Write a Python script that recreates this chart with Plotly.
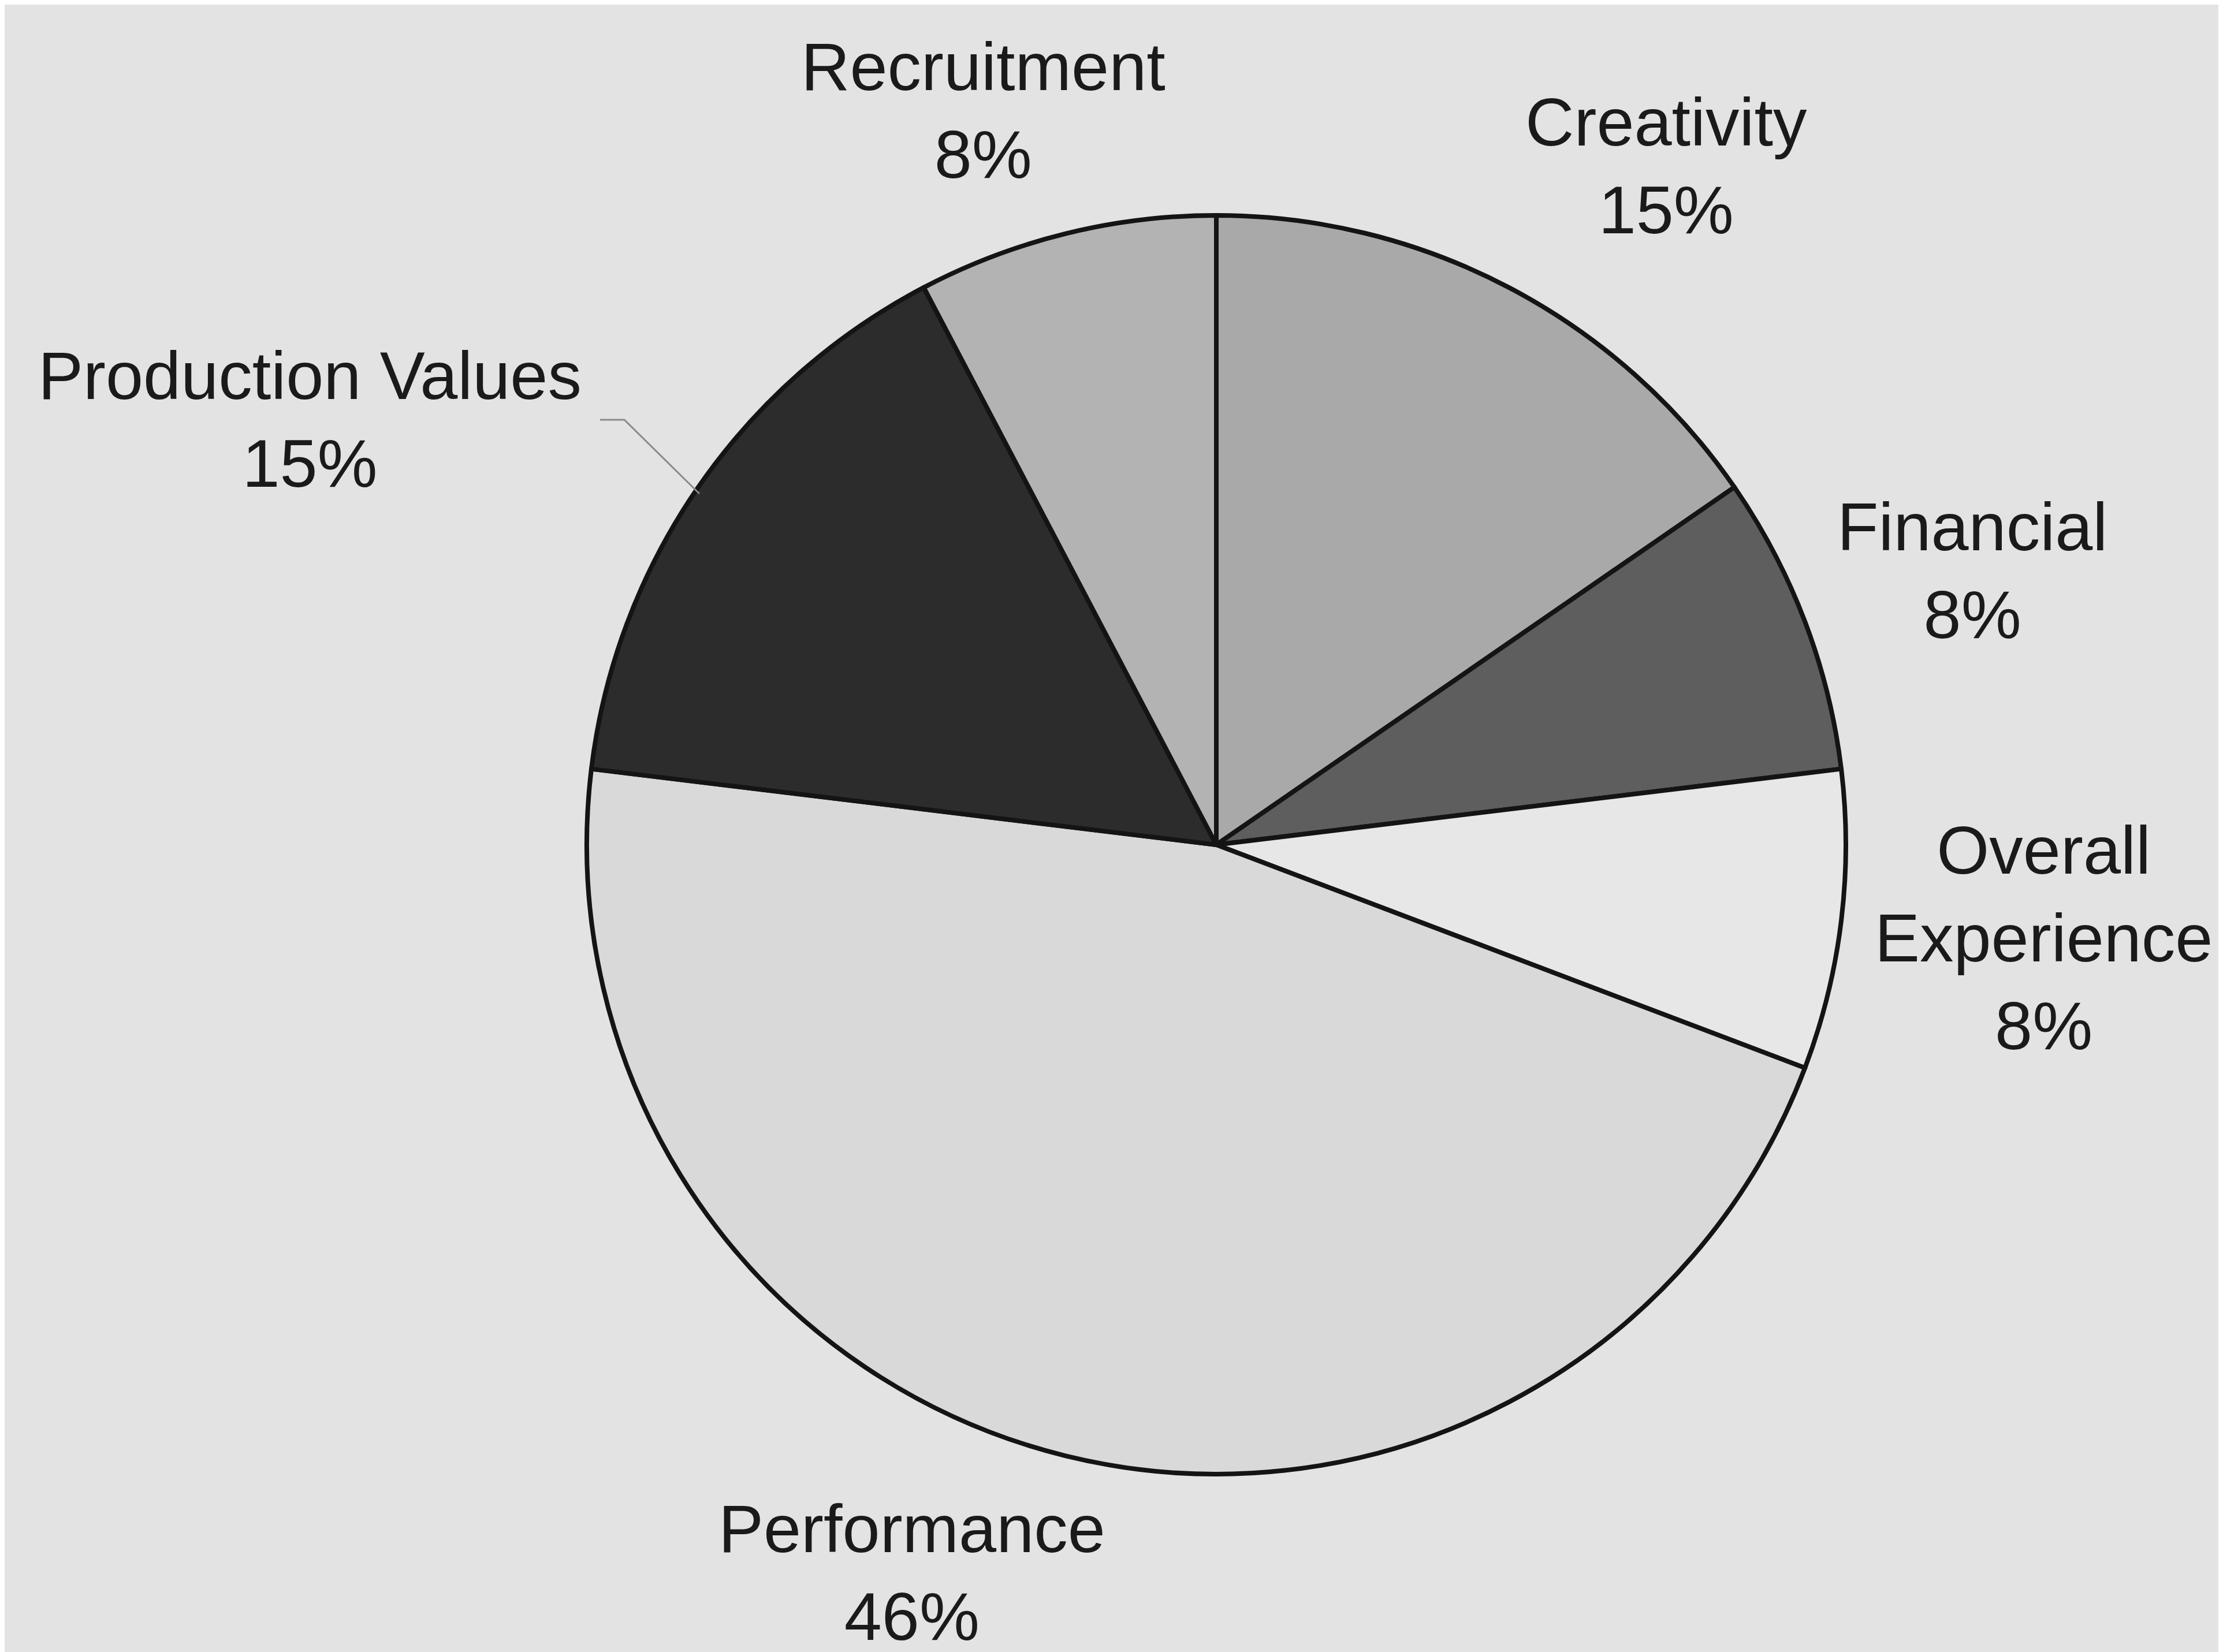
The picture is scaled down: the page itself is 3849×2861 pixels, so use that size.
import plotly.graph_objects as go

# Data (percent of total)
categories = ["Creativity", "Financial", "Overall Experience", "Performance",
              "Production Values", "Recruitment"]
values = [15.4, 7.7, 7.7, 46.2, 15.4, 7.7]
label_lines = ["Creativity", "Financial", "Overall<br>Experience", "Performance",
               "Production Values", "Recruitment"]

# Styles
slice_colors = ["#a9a9a9", "#5e5e5e", "#e7e7e7", "#d9d9d9", "#2c2c2c", "#b3b3b3"]
bg = "#e3e3e3"

W, H = 3849, 2861
cx, cy, r = 2098, 1455, 1090  # pie centre/radius in pixels (layout)

fig = go.Figure(go.Pie(
    labels=categories,
    values=values,
    sort=False,
    direction="clockwise",
    rotation=0,
    textinfo="none",
    hoverinfo="label+percent",
    marker=dict(colors=slice_colors, line=dict(color="#141414", width=8)),
    domain=dict(x=[(cx - r) / W, (cx + r) / W],
                y=[1 - (cy + r) / H, 1 - (cy - r) / H]),
    showlegend=False,
))

# label block centres (pixels, layout only)
label_pos = [(2877, 280), (3407, 980), (3530, 1616), (1571, 2715), (528, 718), (1694, 184)]

total = sum(values)
for name, v, (lx, ly) in zip(label_lines, values, label_pos):
    fig.add_annotation(
        x=lx / W, y=1 - ly / H, xref="paper", yref="paper",
        text=f"{name}<br>{round(v / total * 100)}%",
        showarrow=False, xanchor="center", yanchor="middle", align="center",
        font=dict(family="Liberation Sans, Arial, sans-serif", size=117, color="#1a1a1a"),
    )

# leader line for Production Values
fig.add_shape(type="path", xref="paper", yref="paper",
              path=f"M {1031/W},{1-719/H} L {1073/W},{1-719/H} L {1203/W},{1-847/H}",
              line=dict(color="#8a8a8a", width=3))

fig.update_layout(
    width=W, height=H,
    margin=dict(l=0, r=0, t=0, b=0),
    paper_bgcolor=bg, plot_bgcolor=bg,
)

fig.write_html("out.html")
